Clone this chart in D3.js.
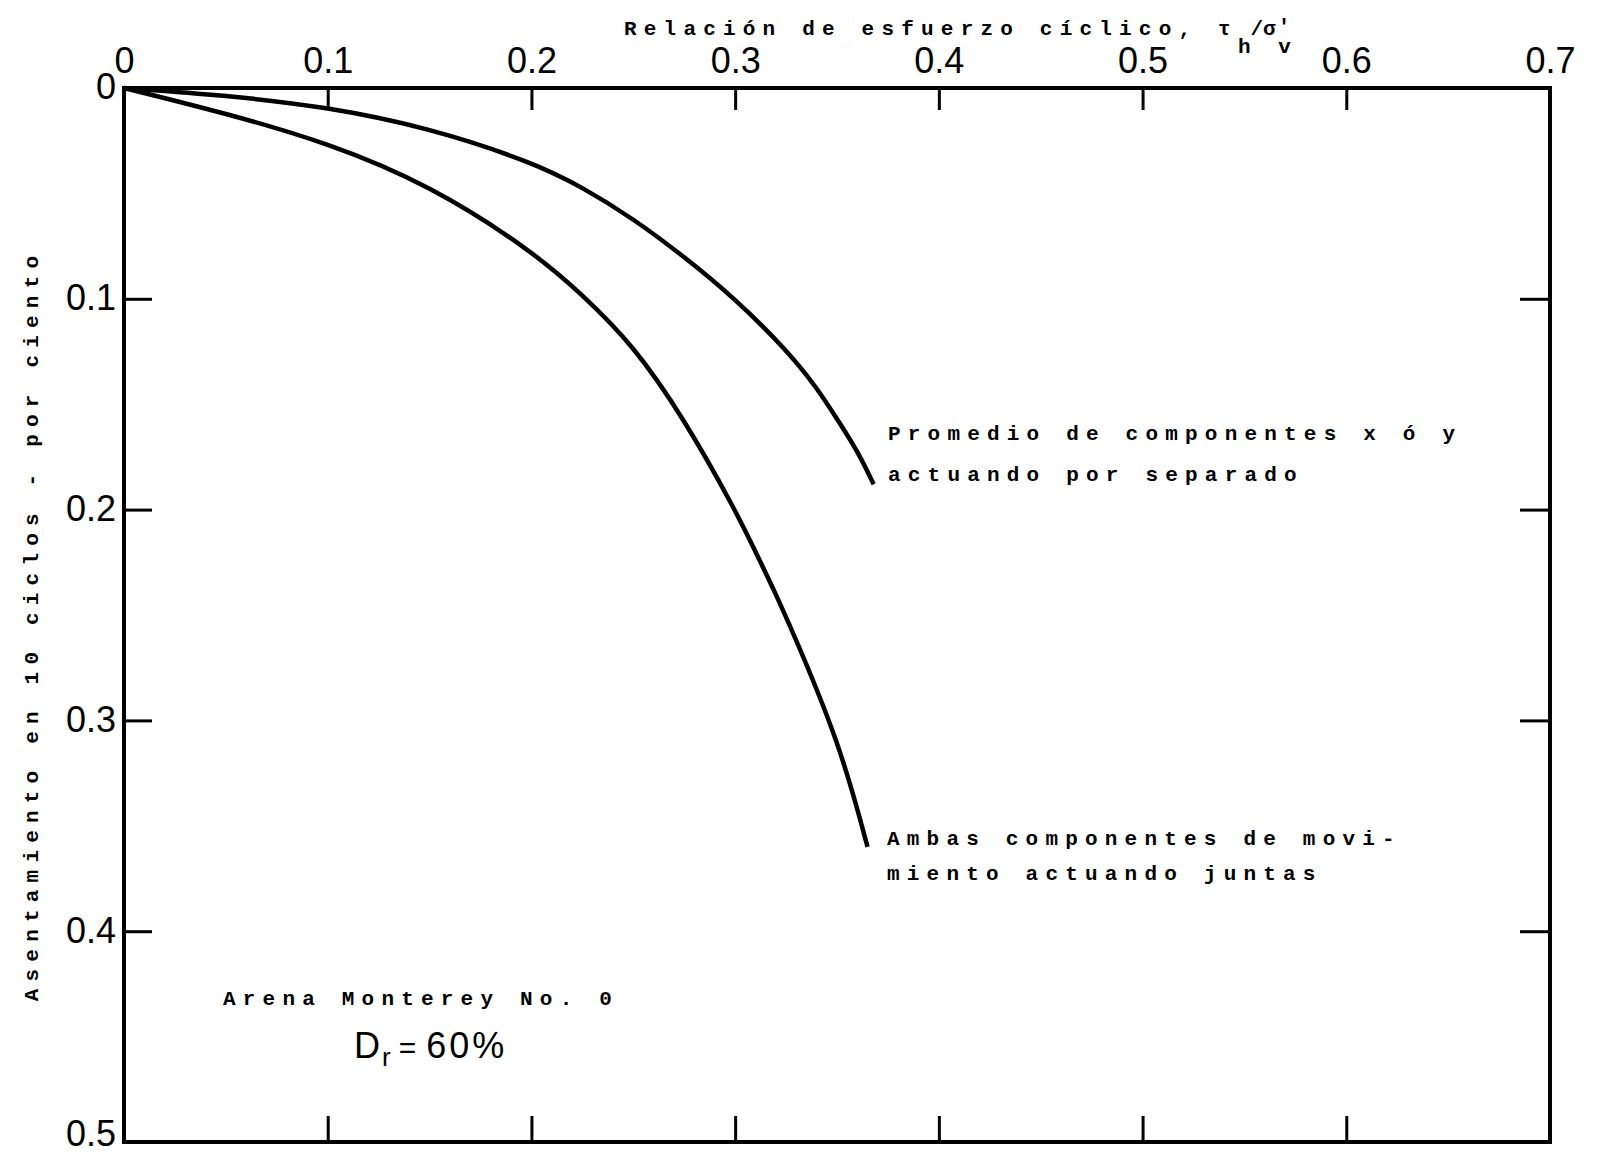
<!DOCTYPE html>
<html lang="es">

<head>
    <meta charset="UTF-8">
    <title>Asentamiento vs relación de esfuerzo cíclico</title>
    <script src="https://cdn.jsdelivr.net/npm/d3@7/dist/d3.min.js"></script>
    <style>
        body { margin: 0; background: #fff; }
        .tw { font-family: "Liberation Mono", monospace; font-weight: bold; font-size: 21px; letter-spacing: 7.2px; }
        .num { font-family: "Liberation Sans", sans-serif; font-size: 36px; }
    </style>
</head>

<body>
    <svg width="1599" height="1156" id="mainsvg"></svg>
    <script>
        // datos
        const xTicks = [0, 0.1, 0.2, 0.3, 0.4, 0.5, 0.6, 0.7];
        const yTicks = [0, 0.1, 0.2, 0.3, 0.4, 0.5];
        const promedioX = [0, 0.05, 0.1, 0.15, 0.2, 0.225, 0.25, 0.275, 0.3, 0.325, 0.34, 0.35, 0.36, 0.368];
        const promedioY = [0, 0.0035, 0.009, 0.019, 0.035, 0.047, 0.062, 0.08, 0.1, 0.124, 0.142, 0.157, 0.172, 0.188];
        const ambasX = [0, 0.05, 0.1, 0.15, 0.2, 0.225, 0.25, 0.275, 0.3, 0.31, 0.32, 0.33, 0.34, 0.35, 0.358, 0.365];
        const ambasY = [0, 0.012, 0.026, 0.046, 0.077, 0.098, 0.122, 0.157, 0.2, 0.22, 0.24, 0.262, 0.285, 0.31, 0.335, 0.36];

        const svg = d3.select('#mainsvg');
        const margin = { top: 88, left: 124, right: 49, bottom: 14 };
        const width = +svg.attr('width');
        const height = +svg.attr('height');

        const x = d3.scaleLinear().domain([0, 0.7]).range([margin.left, width - margin.right]);
        const y = d3.scaleLinear().domain([0, 0.5]).range([margin.top, height - margin.bottom]);
        const fmt = d => d === 0 ? '0' : d.toFixed(1);
        const inner = xTicks.slice(1, -1);
        const innerY = yTicks.slice(1, -1);

        // ejes (marcas hacia dentro)
        const gTop = svg.append('g').attr('transform', `translate(0,${y(0)})`)
            .call(d3.axisTop(x).tickValues(xTicks).tickSizeInner(-22).tickSizeOuter(0).tickPadding(15).tickFormat(fmt));
        gTop.selectAll('.tick').filter(d => d === 0 || d === 0.7).select('line').remove();
        gTop.selectAll('text').attr('class', 'num').attr('font-size', null).attr('font-family', null);

        const gLeft = svg.append('g').attr('transform', `translate(${x(0)},0)`)
            .call(d3.axisLeft(y).tickValues(yTicks).tickSizeInner(-28).tickSizeOuter(0).tickPadding(8).tickFormat(fmt));
        gLeft.selectAll('.tick').filter(d => d === 0 || d === 0.5).select('line').remove();
        gLeft.selectAll('text').attr('class', 'num').attr('font-size', null).attr('font-family', null)
            .attr('dy', d => d === 0.5 ? '0.1em' : '0.3em');

        svg.append('g').attr('transform', `translate(0,${y(0.5)})`)
            .call(d3.axisBottom(x).tickValues(inner).tickSizeInner(-26).tickSizeOuter(0).tickFormat(''));
        svg.append('g').attr('transform', `translate(${x(0.7)},0)`)
            .call(d3.axisRight(y).tickValues(innerY).tickSizeInner(-30).tickSizeOuter(0).tickFormat(''));

        svg.selectAll('.domain').remove();
        svg.selectAll('.tick line').attr('stroke', '#000').attr('stroke-width', 3);
        svg.selectAll('.tick text').attr('fill', '#000');

        svg.append('rect')
            .attr('x', x(0)).attr('y', y(0))
            .attr('width', x(0.7) - x(0)).attr('height', y(0.5) - y(0))
            .attr('fill', 'none').attr('stroke', '#000').attr('stroke-width', 4);

        // curvas
        const line = d3.line().x(d => x(d[0])).y(d => y(d[1])).curve(d3.curveBasis);
        const series = [d3.zip(promedioX, promedioY), d3.zip(ambasX, ambasY)];
        svg.selectAll('path.curva').data(series).enter()
            .append('path')
            .attr('class', 'curva')
            .attr('d', line)
            .attr('fill', 'none')
            .attr('stroke', '#000')
            .attr('stroke-width', 4.5);

        // título del eje x
        const title = svg.append('text').attr('class', 'tw').attr('x', 624).attr('y', 35);
        title.append('tspan').text('Relación de esfuerzo cíclico, τ');
        title.append('tspan').attr('dy', 18).style('letter-spacing', '0px').text('h');
        title.append('tspan').attr('dy', -18).style('letter-spacing', '0px').text('/σ');
        title.append('tspan').attr('dy', -2).attr('dx', 2).style('letter-spacing', '0px').text('\'');
        title.append('tspan').attr('dy', 20).attr('dx', -12).style('letter-spacing', '0px').text('v');

        // título del eje y
        svg.append('text').attr('class', 'tw')
            .attr('transform', 'translate(38,625) rotate(-90)')
            .attr('text-anchor', 'middle')
            .text('Asentamiento en 10 ciclos - por ciento');

        // anotaciones
        const notas = [
            { t: 'Promedio de componentes x ó y', x: 888, y: 440 },
            { t: 'actuando por separado', x: 888, y: 481 },
            { t: 'Ambas componentes de movi-', x: 887, y: 845 },
            { t: 'miento actuando juntas', x: 887, y: 880 },
            { t: 'Arena Monterey No. 0', x: 223, y: 1005 }
        ];
        svg.selectAll('text.nota').data(notas).enter()
            .append('text')
            .attr('class', 'tw nota')
            .attr('x', d => d.x).attr('y', d => d.y)
            .text(d => d.t);

        const dr = svg.append('text').attr('class', 'num').attr('x', 354).attr('y', 1058).attr('font-size', 36);
        dr.append('tspan').text('D');
        dr.append('tspan').attr('dy', 8).attr('dx', 2).attr('font-size', 26).text('r');
        dr.append('tspan').attr('dy', -8).attr('dx', 8).attr('font-size', 30).text('=');
        dr.append('tspan').attr('dx', 10).style('letter-spacing', '3px').text('60%');
    </script>
</body>

</html>
